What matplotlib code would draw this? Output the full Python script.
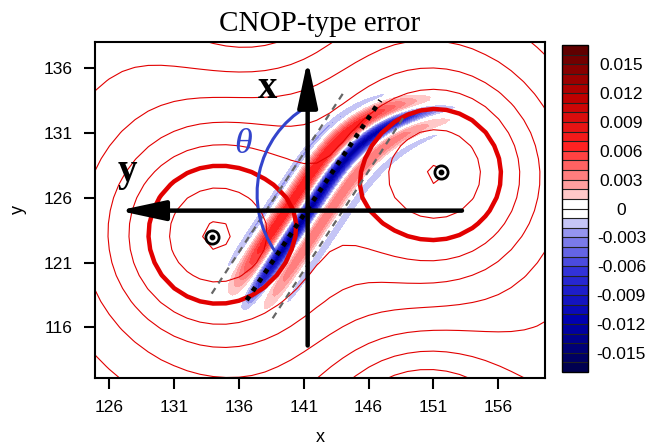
import matplotlib
matplotlib.use('Agg')
import matplotlib.pyplot as plt
import numpy as np
from matplotlib.colors import LinearSegmentedColormap, ListedColormap
from matplotlib.patches import Arc

plt.rcParams['font.family'] = ['Liberation Sans', 'DejaVu Sans']

# axis ticks
x_ticks = [126, 131, 136, 141, 146, 151, 156]
y_ticks = [116, 121, 126, 131, 136]
cb_ticks = [-0.015, -0.012, -0.009, -0.006, -0.003, 0, 0.003, 0.006, 0.009, 0.012, 0.015]
cb_labels = ['-0.015', '-0.012', '-0.009', '-0.006', '-0.003', '0',
             '0.003', '0.006', '0.009', '0.012', '0.015']

# basic flow: two vortices (lows) and two highs, plus a weak bowl
low_x = [133.9, 151.6]
low_y = [123.0, 128.0]
low_amp = [1.0, 1.0]
low_rad = [7.5, 7.2]
high_x = [137.0, 150.0]
high_y = [143.0, 107.0]
high_amp = [0.6, 1.0]
high_rad = [7.0, 7.0]
bowl = [142.5, 125.0, 0.0007, 1.3]
psi_levels = [-0.925, -0.725, -0.525, -0.325, -0.125, 0.075, 0.275, 0.475, 0.675, 0.875, 1.075]
thick_level = -0.525

# CNOP-type error band (cross-band profile)
band_mid = [141.75, 125.8]
band_dir = [0.556, 0.831]
cross_pos = [-2.6, -1.3, 0.15, 1.5, 2.7]
cross_amp = [-0.0025, 0.007, -0.013, 0.004, -0.002]
cross_wid = [0.4, 0.7, 0.55, 0.55, 0.4]
band_half_len = [9.5]
band_bend = [0.0028]

err_levels = np.arange(-17, 18) * 0.001

# grid of the basic flow (1 degree)
gx, gy = np.meshgrid(np.arange(124, 161, 1.0), np.arange(111, 140, 1.0))


def basic_flow(x, y):
    p = bowl[2] * ((x - bowl[0])**2 + bowl[3] * (y - bowl[1])**2)
    for cx, cy, a, r in zip(low_x, low_y, low_amp, low_rad):
        p = p - a * np.exp(-((x - cx)**2 + (y - cy)**2) / r**2)
    for cx, cy, a, r in zip(high_x, high_y, high_amp, high_rad):
        p = p + a * np.exp(-((x - cx)**2 + (y - cy)**2) / r**2)
    return p


psi = basic_flow(gx, gy)

# finer grid for the error
ex, ey = np.meshgrid(np.arange(124, 161, 0.25), np.arange(111, 140, 0.25))
tx, ty = band_dir
s = (ex - band_mid[0]) * tx + (ey - band_mid[1]) * ty
d = (ex - band_mid[0]) * ty - (ey - band_mid[1]) * tx
d = d - band_bend[0] * np.clip(s, 0, None)**3
err = np.zeros_like(ex)
for c, a, w in zip(cross_pos, cross_amp, cross_wid):
    err += a * np.exp(-((d - c) / w)**2)
err *= np.exp(-((s - 1.0) / band_half_len[0])**6)
err = np.clip(err, -0.01699, 0.01699)

smooth = LinearSegmentedColormap.from_list('bwr_ncl', [
    (0.0, '#000050'), (0.15, '#0000b0'), (0.3, '#3030d8'), (0.42, '#9090ee'),
    (0.47, '#dcdcfa'), (0.5, '#ffffff'), (0.53, '#ffdcdc'), (0.58, '#ff9a9a'),
    (0.7, '#ff2020'), (0.85, '#c00000'), (1.0, '#600000')])
cols = [smooth(i / 33) for i in range(34)]
cols[16] = (1, 1, 1, 1)
cols[17] = (1, 1, 1, 1)
cmap = ListedColormap(cols)

fig = plt.figure(figsize=(6.48, 4.46), dpi=100)
ax = fig.add_axes([0.1466, 0.1525, 0.6944, 0.7534])
cf = ax.contourf(ex, ey, err, levels=err_levels, cmap=cmap, zorder=1)
lws = [3.2 if abs(lv - thick_level) < 1e-6 else 0.8 for lv in psi_levels]
ax.contour(gx, gy, psi, levels=psi_levels, colors='#e20000', linewidths=lws,
           linestyles='solid', zorder=2)

# rotated axes and guide lines
arrow = dict(arrowstyle='-|>,head_length=1.4,head_width=0.3', lw=3.2,
             color='k', mutation_scale=20, shrinkA=0, shrinkB=0)
ax.annotate('', xy=(141.3, 136.6), xytext=(141.3, 114.6), arrowprops=arrow, zorder=5)
ax.annotate('', xy=(126.7, 125.0), xytext=(153.2, 125.0), arrowprops=arrow, zorder=5)
ax.plot([136.6, 146.9], [118.1, 133.5], color='k', lw=3.4, ls=(0, (1, 1.3)), zorder=4)
ax.plot([133.9, 144.2], [118.6, 134.3], color='#666666', lw=1.6, ls=(0, (3, 2.5)), zorder=4)
ax.plot([138.6, 148.7], [116.7, 132.2], color='#666666', lw=1.6, ls=(0, (3, 2.5)), zorder=4)
ax.add_patch(Arc((145.2, 126.3), 15.6, 15.6, theta1=121, theta2=215,
                 color='#3344cc', lw=2.2, zorder=4))
ax.text(138.2, 134.4, 'x', family='Liberation Serif', fontsize=28,
        fontweight='bold', ha='center', va='center', zorder=6)
ax.text(127.4, 128.0, 'y', family='Liberation Serif', fontsize=28,
        fontweight='bold', ha='center', va='center', zorder=6)
ax.text(136.3, 130.1, 'θ', family='Liberation Serif', fontsize=26,
        style='italic', color='#3344cc', ha='center', va='center', zorder=6)

# vortex centres
ax.plot(low_x, low_y, 'o', color='k', ms=10.5, zorder=7)
ax.plot(low_x, low_y, 'o', color='w', ms=6.5, zorder=7)
ax.plot(low_x, low_y, 'o', color='k', ms=3.2, zorder=7)

ax.set_xlim(124.9, 159.6)
ax.set_ylim(112.1, 138.0)
ax.set_xticks(x_ticks)
ax.set_yticks(y_ticks)
ax.tick_params(direction='out', length=8, width=1.5, pad=8, labelsize=12.5)
for sp in ax.spines.values():
    sp.set_linewidth(1.5)
ax.set_xlabel('x', fontsize=13, labelpad=10)
ax.set_ylabel('y', fontsize=13, labelpad=12)
ax.set_title('CNOP-type error', family='Liberation Serif', fontsize=21, pad=8)

cax = fig.add_axes([0.8673, 0.166, 0.0401, 0.733])
cb = fig.colorbar(cf, cax=cax, ticks=cb_ticks, drawedges=True)
cb.ax.set_yticklabels(cb_labels)
cb.outline.set_linewidth(1.0)
cb.dividers.set_color('#222222')
cb.dividers.set_linewidth(0.8)
cax.tick_params(length=0, pad=24, labelsize=12.5)
for t in cax.get_yticklabels():
    t.set_ha('center')

plt.savefig('out.png', dpi=100)
